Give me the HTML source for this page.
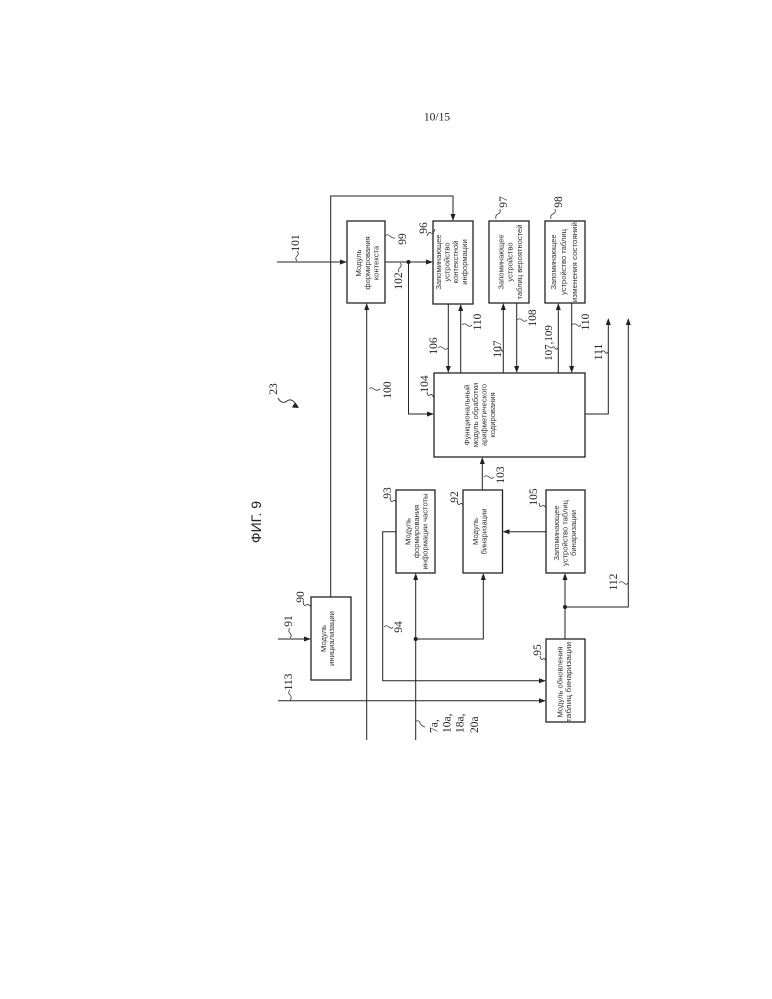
<!DOCTYPE html>
<html><head><meta charset="utf-8"><style>
html,body{margin:0;padding:0;background:#fff;}
svg{display:block;}
.n{font-family:"Liberation Serif",serif;font-size:11.5px;fill:#222;}
.t{font-family:"Liberation Sans",sans-serif;font-size:7.6px;fill:#333;}
</style></head><body>
<svg width="772" height="999" viewBox="0 0 772 999" xmlns="http://www.w3.org/2000/svg">
<rect width="772" height="999" fill="#fff"/>
<text x="437" y="120.5" text-anchor="middle" style="font-family:'Liberation Serif',serif;font-size:11.5px;fill:#222">10/15</text>

<g fill="none" stroke="#222" stroke-width="1.3">
<rect x="347" y="221" width="38" height="82"/>
<rect x="433" y="221" width="40" height="83"/>
<rect x="489" y="221" width="40" height="82"/>
<rect x="545" y="221" width="40" height="82"/>
<rect x="434" y="373" width="151" height="84"/>
<rect x="396" y="490" width="39" height="83"/>
<rect x="463" y="490" width="39.5" height="83"/>
<rect x="546" y="490" width="39" height="83"/>
<rect x="311" y="597" width="40" height="83"/>
<rect x="546" y="639" width="39" height="83"/>
</g>

<g fill="none" stroke="#222" stroke-width="1">
<polyline points="330.7,597 330.7,196 453,196 453,215"/>
<line x1="277" y1="262" x2="341" y2="262"/>
<line x1="385" y1="262" x2="427" y2="262"/>
<polyline points="408.5,262 408.5,414 428,414"/>
<line x1="366.7" y1="740" x2="366.7" y2="309"/>
<line x1="448.3" y1="304" x2="448.3" y2="367"/>
<line x1="460.7" y1="373" x2="460.7" y2="310"/>
<line x1="503.3" y1="373" x2="503.3" y2="309"/>
<line x1="516.7" y1="303" x2="516.7" y2="367"/>
<line x1="558.3" y1="373" x2="558.3" y2="309"/>
<line x1="571.7" y1="303" x2="571.7" y2="367"/>
<polyline points="585,414 608.3,414 608.3,324"/>
<polyline points="565,607 628.3,607 628.3,324"/>
<line x1="482.3" y1="490" x2="482.3" y2="463"/>
<line x1="546" y1="531.7" x2="508.5" y2="531.7"/>
<polyline points="396,531.7 382.7,531.7 382.7,680.7 540,680.7"/>
<line x1="415.7" y1="740" x2="415.7" y2="579"/>
<polyline points="415.7,639 483.3,639 483.3,579"/>
<line x1="278" y1="639" x2="305" y2="639"/>
<line x1="278" y1="700.7" x2="540" y2="700.7"/>
<line x1="565" y1="639" x2="565" y2="579"/>
</g>

<g fill="#222">
<polygon points="453,221 450.5,214 455.5,214"/>
<polygon points="347,262 340,259.5 340,264.5"/>
<polygon points="433,262 426,259.5 426,264.5"/>
<polygon points="434,414 427,411.5 427,416.5"/>
<polygon points="366.7,303 364.2,310 369.2,310"/>
<polygon points="448.3,373 445.8,366 450.8,366"/>
<polygon points="460.7,304 458.2,311 463.2,311"/>
<polygon points="503.3,303 500.8,310 505.8,310"/>
<polygon points="516.7,373 514.2,366 519.2,366"/>
<polygon points="558.3,303 555.8,310 560.8,310"/>
<polygon points="571.7,373 569.2,366 574.2,366"/>
<polygon points="608.3,318 605.8,325 610.8,325"/>
<polygon points="628.3,318 625.8,325 630.8,325"/>
<polygon points="482.3,457 479.8,464 484.8,464"/>
<polygon points="502.5,531.7 509.5,529.2 509.5,534.2"/>
<polygon points="546,680.7 539,678.2 539,683.2"/>
<polygon points="415.7,573 413.2,580 418.2,580"/>
<polygon points="483.3,573 480.8,580 485.8,580"/>
<polygon points="311,639 304,636.5 304,641.5"/>
<polygon points="546,700.7 539,698.2 539,703.2"/>
<polygon points="565,573 562.5,580 567.5,580"/>
<circle cx="408.5" cy="262" r="2"/>
<circle cx="415.7" cy="639" r="2"/>
<circle cx="565" cy="607" r="2"/>
</g>

<g fill="none" stroke="#333" stroke-width="0.8">
<path d="M297,261 Q294.5,258.5 297,256 T297,251"/>
<path d="M385,236 Q387.5,233.5 390,236 T395,238"/>
<path d="M400,263 Q402.5,265 400,267.5 T399,272"/>
<path d="M427,236 Q429,231 431,233 T435,229"/>
<path d="M496,219 Q495,215 498,214 T500,209"/>
<path d="M551,219 Q550,215 553,214 T555,209"/>
<path d="M438,348 Q440.5,345.5 443,348 T448,348"/>
<path d="M462,325 Q464.5,322.5 467,325 T472,325"/>
<path d="M499,348 Q500,345 501,349 T503,350"/>
<path d="M517,320 Q519.5,317.5 522,320 T527,320"/>
<path d="M552,348 Q553.5,345.5 555,348 T558,348"/>
<path d="M572,325 Q574.5,322.5 577,325 T581,325"/>
<path d="M602,352 Q603.5,349.5 605,352 T608,352"/>
<path d="M369,389 Q371.5,386.5 374,389 T380,389"/>
<path d="M427,392 Q428,397 430,395 T434,398"/>
<path d="M484,477 Q486.5,474.5 489,477 T494,477"/>
<path d="M539,503 Q540,508 542,506 T546,508"/>
<path d="M457,501 Q458,506 460,504 T463,506"/>
<path d="M390,498 Q391,503 393,501 T396,503"/>
<path d="M384,627 Q386.5,624.5 389,627 T393,627"/>
<path d="M303,602 Q304,607 306,605 T311,607"/>
<path d="M290,628 Q287.5,630.5 290,633 T290,638"/>
<path d="M290,690 Q287.5,692.5 290,695 T290,700"/>
<path d="M540,656 Q541,661 543,659 T546,662"/>
<path d="M619,583 Q621.5,580.5 624,583 T628,583"/>
<path d="M416,721 Q419,720 420,723 T425,727"/>
<path d="M278,398 Q282,405 287,401 T298,407" stroke="#222" stroke-width="0.9"/>
</g>
<polygon points="299,408 292,407.5 294.5,403" fill="#222"/>

<g class="n" text-anchor="middle">
<text transform="translate(299,243) rotate(-90)">101</text>
<text transform="translate(406,239) rotate(-90)">99</text>
<text transform="translate(402,281) rotate(-90)">102</text>
<text transform="translate(427,228) rotate(-90)">96</text>
<text transform="translate(507,202) rotate(-90)">97</text>
<text transform="translate(562,202) rotate(-90)">98</text>
<text transform="translate(437,346) rotate(-90)">106</text>
<text transform="translate(481,322) rotate(-90)">110</text>
<text transform="translate(501,349) rotate(-90)">107</text>
<text transform="translate(536,318) rotate(-90)">108</text>
<text transform="translate(552,343) rotate(-90)" style="font-size:11px">107,109</text>
<text transform="translate(589,322) rotate(-90)">110</text>
<text transform="translate(602,352) rotate(-90)">111</text>
<text transform="translate(391,390) rotate(-90)">100</text>
<text transform="translate(428,384) rotate(-90)">104</text>
<text transform="translate(277,389) rotate(-90)">23</text>
<text transform="translate(504,475) rotate(-90)">103</text>
<text transform="translate(537,497) rotate(-90)">105</text>
<text transform="translate(458,497) rotate(-90)">92</text>
<text transform="translate(391,493) rotate(-90)">93</text>
<text transform="translate(402,627) rotate(-90)">94</text>
<text transform="translate(304,597) rotate(-90)">90</text>
<text transform="translate(292,621) rotate(-90)">91</text>
<text transform="translate(292,682) rotate(-90)">113</text>
<text transform="translate(541,650) rotate(-90)">95</text>
<text transform="translate(617,582) rotate(-90)">112</text>
</g>
<g class="n" text-anchor="start">
<text transform="translate(437.5,733) rotate(-90)">7a,</text>
<text transform="translate(450.5,733) rotate(-90)">10a,</text>
<text transform="translate(463.5,733) rotate(-90)">18a,</text>
<text transform="translate(478,733) rotate(-90)">20a</text>
</g>

<text transform="translate(261,522) rotate(-90)" text-anchor="middle" style="font-family:'Liberation Sans',sans-serif;font-size:14px;fill:#222">ФИГ. 9</text>

<g class="t" text-anchor="middle">
<text transform="translate(361,263) rotate(-90)">Модуль</text>
<text transform="translate(370,263) rotate(-90)">формирования</text>
<text transform="translate(378.5,263) rotate(-90)">контекста</text>

<text transform="translate(441,262) rotate(-90)">Запоминающее</text>
<text transform="translate(449.5,262) rotate(-90)">устройство</text>
<text transform="translate(458,262) rotate(-90)">контекстной</text>
<text transform="translate(467,262) rotate(-90)">информации</text>

<text transform="translate(503.5,262) rotate(-90)">Запоминающее</text>
<text transform="translate(512.5,262) rotate(-90)">устройство</text>
<text transform="translate(522,262) rotate(-90)">таблиц вероятностей</text>

<text transform="translate(556,262) rotate(-90)">Запоминающее</text>
<text transform="translate(566,262) rotate(-90)">устройство таблиц</text>
<text transform="translate(577,262) rotate(-90)" textLength="80" lengthAdjust="spacingAndGlyphs">изменения состояний</text>

<text transform="translate(469.5,415) rotate(-90)">Функциональный</text>
<text transform="translate(478,415) rotate(-90)">модуль обработки</text>
<text transform="translate(486.5,415) rotate(-90)">арифметического</text>
<text transform="translate(495,415) rotate(-90)">кодирования</text>

<text transform="translate(410.5,531.5) rotate(-90)">Модуль</text>
<text transform="translate(419,531.5) rotate(-90)">формирования</text>
<text transform="translate(427.5,531.5) rotate(-90)">информации частоты</text>

<text transform="translate(478,531.5) rotate(-90)">Модуль</text>
<text transform="translate(486.5,531.5) rotate(-90)">бинаризации</text>

<text transform="translate(559,533) rotate(-90)">Запоминающее</text>
<text transform="translate(567.5,533) rotate(-90)">устройство таблиц</text>
<text transform="translate(576,533) rotate(-90)">бинаризации</text>

<text transform="translate(326,638.5) rotate(-90)">Модуль</text>
<text transform="translate(334,638.5) rotate(-90)">инициализации</text>

<text transform="translate(562.5,682) rotate(-90)">Модуль обновления</text>
<text transform="translate(571,682) rotate(-90)" textLength="80" lengthAdjust="spacingAndGlyphs">таблиц бинаризации</text>
</g>
</svg>
</body></html>
